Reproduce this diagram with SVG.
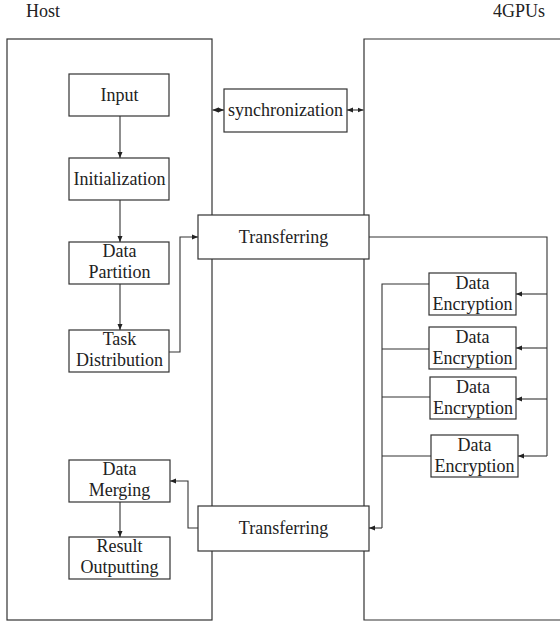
<svg xmlns="http://www.w3.org/2000/svg" width="560" height="622" viewBox="0 0 560 622">
<defs>
<marker id="ah" viewBox="0 0 6 6" refX="6" refY="3" markerWidth="6" markerHeight="6" markerUnits="userSpaceOnUse" orient="auto-start-reverse">
<path d="M0,0.5 L6,3 L0,5.5 z" fill="#222"/>
</marker>
</defs>
<style>
.box{fill:#fff;stroke:#333;stroke-width:1.2}
.frame{fill:none;stroke:#333;stroke-width:1.2}
.ln{fill:none;stroke:#333;stroke-width:1.1}
.arr{fill:none;stroke:#333;stroke-width:1.1;marker-end:url(#ah)}
.dbl{fill:none;stroke:#333;stroke-width:1.1;marker-start:url(#ah);marker-end:url(#ah)}
text{font-family:"Liberation Serif","Times New Roman",serif;font-size:18px;fill:#222;text-anchor:middle}
</style>
<rect width="560" height="622" fill="#fff"/>
<g id="labels">
<text x="43" y="17">Host</text>
<text x="519" y="17">4GPUs</text>
</g>
<g id="host">
<rect class="frame" x="7" y="39" width="205" height="581"/>
</g>
<g id="gpus">
<path class="frame" d="M562,39 H364 V620 H562"/>
</g>
<g id="connectors">
<line class="arr" x1="120" y1="116" x2="120" y2="158"/>
<line class="arr" x1="120" y1="200" x2="120" y2="242"/>
<line class="arr" x1="120" y1="284" x2="120" y2="330"/>
<polyline class="arr" points="169,352 180,352 180,237 198,237"/>
<line class="dbl" x1="212.5" y1="110" x2="224" y2="110"/>
<line class="dbl" x1="347" y1="110" x2="363.5" y2="110"/>
<polyline class="ln" points="369,237 547,237 547,456"/>
<line class="arr" x1="547" y1="294" x2="516" y2="294"/>
<line class="arr" x1="547" y1="348" x2="516" y2="348"/>
<line class="arr" x1="547" y1="399" x2="516" y2="399"/>
<line class="arr" x1="547" y1="456" x2="518" y2="456"/>
<polyline class="ln" points="429,284 382,284 382,528"/>
<line class="ln" x1="429" y1="349" x2="382" y2="349"/>
<line class="ln" x1="430" y1="397" x2="382" y2="397"/>
<line class="ln" x1="431" y1="456" x2="382" y2="456"/>
<line class="arr" x1="382" y1="528" x2="369" y2="528"/>
<polyline class="arr" points="198,528 188,528 188,481 170,481"/>
<line class="arr" x1="120" y1="502" x2="120" y2="537"/>
</g>
<g id="input">
<rect class="box" x="69" y="74" width="100" height="42"/>
<text x="119.5" y="101">Input</text>
</g>
<g id="initialization">
<rect class="box" x="69" y="158" width="100" height="42"/>
<text x="119.5" y="185">Initialization</text>
</g>
<g id="data-partition">
<rect class="box" x="69" y="242" width="100" height="42"/>
<text x="119.5" y="257">Data</text>
<text x="119.5" y="278">Partition</text>
</g>
<g id="task-distribution">
<rect class="box" x="69" y="330" width="100" height="42"/>
<text x="119.5" y="345">Task</text>
<text x="119.5" y="366">Distribution</text>
</g>
<g id="synchronization">
<rect class="box" x="224" y="89" width="123" height="43"/>
<text x="285.5" y="116">synchronization</text>
</g>
<g id="transferring-1">
<rect class="box" x="198" y="215" width="171" height="44"/>
<text x="283.5" y="243">Transferring</text>
</g>
<g id="data-encryption-1">
<rect class="box" x="429" y="273" width="87" height="42"/>
<text x="472.5" y="289">Data</text>
<text x="472.5" y="310">Encryption</text>
</g>
<g id="data-encryption-2">
<rect class="box" x="429" y="327" width="87" height="42"/>
<text x="472.5" y="343">Data</text>
<text x="472.5" y="364">Encryption</text>
</g>
<g id="data-encryption-3">
<rect class="box" x="430" y="377" width="86" height="42"/>
<text x="473" y="393">Data</text>
<text x="473" y="414">Encryption</text>
</g>
<g id="data-encryption-4">
<rect class="box" x="431" y="435" width="87" height="42"/>
<text x="474.5" y="451">Data</text>
<text x="474.5" y="472">Encryption</text>
</g>
<g id="transferring-2">
<rect class="box" x="198" y="506" width="171" height="45"/>
<text x="283.5" y="534">Transferring</text>
</g>
<g id="data-merging">
<rect class="box" x="69" y="460" width="101" height="42"/>
<text x="119.5" y="475">Data</text>
<text x="119.5" y="496">Merging</text>
</g>
<g id="result-outputting">
<rect class="box" x="69" y="537" width="101" height="42"/>
<text x="119.5" y="552">Result</text>
<text x="119.5" y="573">Outputting</text>
</g>
</svg>
